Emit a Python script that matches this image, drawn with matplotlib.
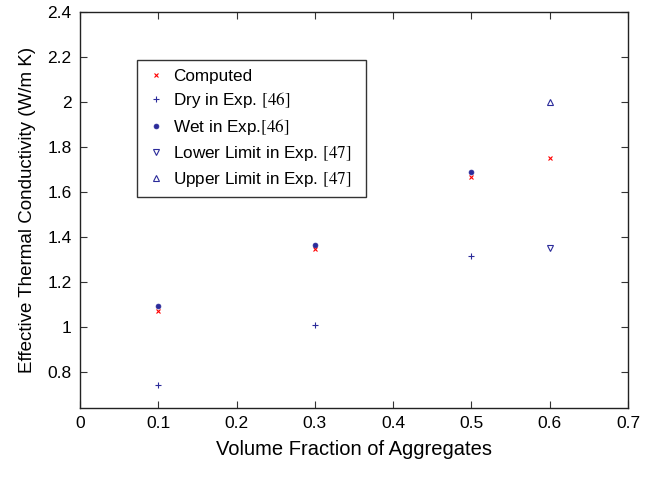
import numpy as np
import matplotlib
matplotlib.use("Agg")
import matplotlib.pyplot as plt

plt.rcParams['font.family'] = ['Liberation Sans', 'DejaVu Sans']
plt.rcParams['mathtext.fontset'] = 'stix'

# --- data ---
x_comp = [0.1, 0.3, 0.5, 0.6]
y_comp = [1.073, 1.345, 1.665, 1.75]
x_dry = [0.1, 0.3, 0.5]
y_dry = [0.744, 1.008, 1.315]
x_wet = [0.1, 0.3, 0.5]
y_wet = [1.095, 1.365, 1.69]
x_low = [0.6]
y_low = [1.35]
x_up = [0.6]
y_up = [2.0]

xticks = [0, 0.1, 0.2, 0.3, 0.4, 0.5, 0.6, 0.7]
xtick_labels = ['0', '0.1', '0.2', '0.3', '0.4', '0.5', '0.6', '0.7']
yticks = [0.8, 1.0, 1.2, 1.4, 1.6, 1.8, 2.0, 2.2, 2.4]
ytick_labels = ['0.8', '1', '1.2', '1.4', '1.6', '1.8', '2', '2.2', '2.4']

blue = '#2b2b9a'

fig = plt.figure(figsize=(6.54, 4.78), dpi=100)
# axes box: x 80..628 px, y 12..408 px
ax = fig.add_axes([80 / 654, 1 - 408 / 478, 548 / 654, 396 / 478])

ax.plot(x_comp, y_comp, 'x', color='red', ms=3.2, mew=0.8, ls='none', label='Computed')
ax.plot(x_dry, y_dry, '+', color=blue, ms=4.5, mew=0.8, ls='none', label=r'Dry in Exp. $\mathrm{[46]}$')
ax.plot(x_wet, y_wet, 'o', color=blue, ms=3.5, mew=0.5, ls='none', label=r'Wet in Exp.$\mathrm{[46]}$')
ax.plot(x_low, y_low, 'v', mfc='none', mec=blue, ms=5, mew=0.8, ls='none', label=r'Lower Limit in Exp. $\mathrm{[47]}$  ')
ax.plot(x_up, y_up, '^', mfc='none', mec=blue, ms=5, mew=0.8, ls='none', label=r'Upper Limit in Exp. $\mathrm{[47]}$')

ax.set_xlim(0, 0.7)
ax.set_ylim(0.64, 2.4)
ax.set_xticks(xticks)
ax.set_xticklabels(xtick_labels)
ax.set_yticks(yticks)
ax.set_yticklabels(ytick_labels)
ax.tick_params(direction='in', top=True, right=True, labelsize=12.5, length=5, width=0.8,
               color='#333333', pad=6)
for s in ax.spines.values():
    s.set_linewidth(1.0)
    s.set_color('#222222')

ax.set_xlabel('Volume Fraction of Aggregates', fontsize=14.5, labelpad=6)
ax.set_ylabel('Effective Thermal Conductivity (W/m K)', fontsize=13.5, labelpad=8)

leg = ax.legend(loc='upper left', bbox_to_anchor=(137 / 654, 1 - 60 / 478), bbox_transform=fig.transFigure,
                borderaxespad=0, fontsize=12.3, frameon=True, fancybox=False, edgecolor='black',
                borderpad=0.5, labelspacing=0.4, handlelength=1.2, handletextpad=0.4)
leg.get_frame().set_linewidth(1.0)

fig.savefig('out.png', dpi=100)
